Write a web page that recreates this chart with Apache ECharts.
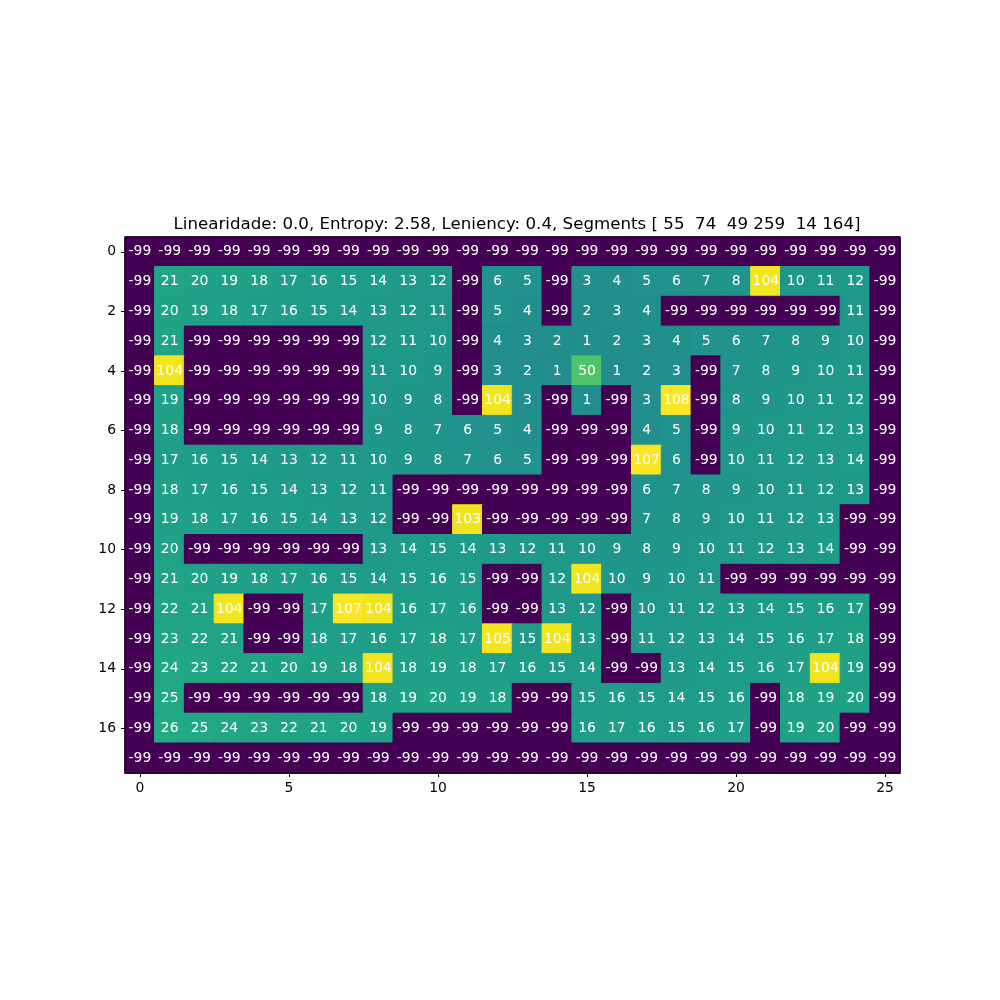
<!DOCTYPE html>
<html><head><meta charset="utf-8">
<script src="https://cdn.jsdelivr.net/npm/echarts@6/dist/echarts.min.js"></script>
<style>html,body{margin:0;padding:0;background:#fff}#c{width:1000px;height:1000px}</style>
</head><body><div id="c"></div>
<script>
const titleText = "Linearidade: 0.0, Entropy: 2.58, Leniency: 0.4, Segments [ 55  74  49 259  14 164]";
const xCategories = Array.from({length: 26}, (_, i) => String(i));
const yCategories = Array.from({length: 18}, (_, i) => String(i));
const row0  = [-99,-99,-99,-99,-99,-99,-99,-99,-99,-99,-99,-99,-99,-99,-99,-99,-99,-99,-99,-99,-99,-99,-99,-99,-99,-99];
const row1  = [-99,21,20,19,18,17,16,15,14,13,12,-99,6,5,-99,3,4,5,6,7,8,104,10,11,12,-99];
const row2  = [-99,20,19,18,17,16,15,14,13,12,11,-99,5,4,-99,2,3,4,-99,-99,-99,-99,-99,-99,11,-99];
const row3  = [-99,21,-99,-99,-99,-99,-99,-99,12,11,10,-99,4,3,2,1,2,3,4,5,6,7,8,9,10,-99];
const row4  = [-99,104,-99,-99,-99,-99,-99,-99,11,10,9,-99,3,2,1,50,1,2,3,-99,7,8,9,10,11,-99];
const row5  = [-99,19,-99,-99,-99,-99,-99,-99,10,9,8,-99,104,3,-99,1,-99,3,108,-99,8,9,10,11,12,-99];
const row6  = [-99,18,-99,-99,-99,-99,-99,-99,9,8,7,6,5,4,-99,-99,-99,4,5,-99,9,10,11,12,13,-99];
const row7  = [-99,17,16,15,14,13,12,11,10,9,8,7,6,5,-99,-99,-99,107,6,-99,10,11,12,13,14,-99];
const row8  = [-99,18,17,16,15,14,13,12,11,-99,-99,-99,-99,-99,-99,-99,-99,6,7,8,9,10,11,12,13,-99];
const row9  = [-99,19,18,17,16,15,14,13,12,-99,-99,103,-99,-99,-99,-99,-99,7,8,9,10,11,12,13,-99,-99];
const row10 = [-99,20,-99,-99,-99,-99,-99,-99,13,14,15,14,13,12,11,10,9,8,9,10,11,12,13,14,-99,-99];
const row11 = [-99,21,20,19,18,17,16,15,14,15,16,15,-99,-99,12,104,10,9,10,11,-99,-99,-99,-99,-99,-99];
const row12 = [-99,22,21,104,-99,-99,17,107,104,16,17,16,-99,-99,13,12,-99,10,11,12,13,14,15,16,17,-99];
const row13 = [-99,23,22,21,-99,-99,18,17,16,17,18,17,105,15,104,13,-99,11,12,13,14,15,16,17,18,-99];
const row14 = [-99,24,23,22,21,20,19,18,104,18,19,18,17,16,15,14,-99,-99,13,14,15,16,17,104,19,-99];
const row15 = [-99,25,-99,-99,-99,-99,-99,-99,18,19,20,19,18,-99,-99,15,16,15,14,15,16,-99,18,19,20,-99];
const row16 = [-99,26,25,24,23,22,21,20,19,-99,-99,-99,-99,-99,-99,16,17,16,15,16,17,-99,19,20,-99,-99];
const row17 = [-99,-99,-99,-99,-99,-99,-99,-99,-99,-99,-99,-99,-99,-99,-99,-99,-99,-99,-99,-99,-99,-99,-99,-99,-99,-99];
const rows = [row0,row1,row2,row3,row4,row5,row6,row7,row8,row9,row10,row11,row12,row13,row14,row15,row16,row17];

// viridis colormap stops (0..1 step 0.05)
const viridis = ['#440154','#471365','#482475','#463480','#414487','#3b528b','#355f8d','#2f6c8e','#2a788e','#25848e',
  '#21918c','#1e9c89','#22a884','#2fb47c','#44bf70','#5ec962','#7ad151','#9bd93c','#bddf26','#dfe318','#fde725'];
function hex2rgb(h){return [parseInt(h.slice(1,3),16),parseInt(h.slice(3,5),16),parseInt(h.slice(5,7),16)];}
function cmap(t){
  t = Math.max(0, Math.min(1, t));
  const f = t * (viridis.length - 1), i = Math.min(Math.floor(f), viridis.length - 2), r = f - i;
  const a = hex2rgb(viridis[i]), b = hex2rgb(viridis[i+1]);
  return 'rgb(' + a.map((v,k)=>Math.round(v + (b[k]-v)*r)).join(',') + ')';
}
const all = rows.flat();
const vmin = Math.min(...all), vmax = Math.max(...all);
const data = [];
rows.forEach((r, y) => r.forEach((v, x) => {
  const c = cmap((v - vmin) / (vmax - vmin));
  data.push({value: [x, y, v], itemStyle: {color: c, borderColor: c, borderWidth: 1}});
}));

const font = 'DejaVu Sans';
const chart = echarts.init(document.getElementById('c'), null, {renderer: 'canvas'});
chart.setOption({
  animation: false,
  title: {
    text: titleText, left: 512, top: 211, textAlign: 'center',
    textStyle: {fontFamily: font, fontSize: 16.67, fontWeight: 'normal', color: '#000'}
  },
  grid: {left: 125, top: 237, width: 775, height: 536, show: true, borderColor: '#000', borderWidth: 1, backgroundColor: 'transparent', z: 10},
  xAxis: {
    type: 'category', data: xCategories, position: 'bottom',
    axisLine: {show: true, lineStyle: {color: '#000', width: 1}},
    axisTick: {show: true, alignWithLabel: true, interval: 4, length: 4, lineStyle: {color: '#000'}},
    axisLabel: {interval: 4, color: '#000', fontFamily: font, fontSize: 13.9, margin: 8},
    splitLine: {show: false}
  },
  yAxis: {
    type: 'category', data: yCategories, inverse: true,
    axisLine: {show: true, lineStyle: {color: '#000', width: 1}},
    axisTick: {show: true, alignWithLabel: true, interval: 1, length: 4, lineStyle: {color: '#000'}},
    axisLabel: {interval: 1, color: '#000', fontFamily: font, fontSize: 13.9, margin: 9},
    splitLine: {show: false}
  },
  series: [{
    type: 'heatmap', data: data,
    label: {show: true, color: '#fff', fontFamily: font, fontSize: 13.9, formatter: p => String(p.value[2])},
    emphasis: {disabled: true}
  }]
});
</script></body></html>
